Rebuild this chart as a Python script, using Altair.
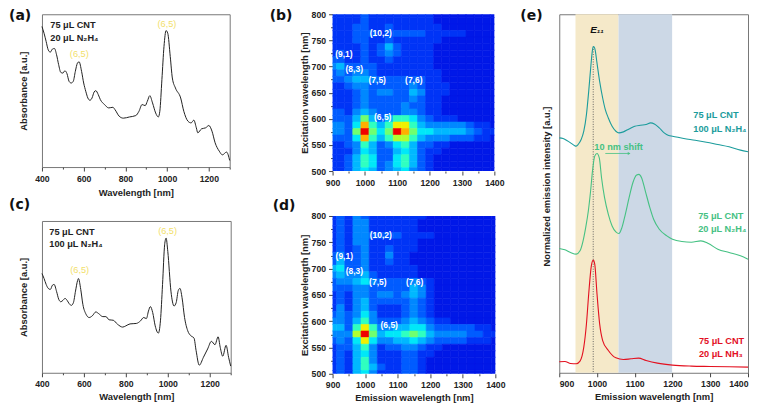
import altair as alt
import pandas as pd

FONT = "Liberation Sans"

# ---------- absorbance spectra ----------
a_x = [400,410,420,430,440,450,460,470,480,490,500,510,520,530,540,550,560,570,578,590,600,610,620,630,640,650,658,670,680,700,720,740,750,770,790,820,850,865,880,895,905,917,930,945,958,965,975,985,995,1003,1015,1025,1040,1065,1080,1100,1115,1128,1140,1147,1165,1185,1200,1215,1230,1250,1265,1285,1300]
a_p = [80,100,125,150,157,148,146,165,195,218,220,213,222,245,250,245,215,190,186,215,250,275,295,302,295,277,273,285,300,315,325,323,330,350,356,352,348,335,315,318,305,288,310,340,352,335,240,140,92,100,170,235,265,295,335,365,370,362,385,400,388,385,378,395,430,455,466,458,483]
a_y = [round((503 - p) / 460, 3) for p in a_p]

c_x = [400,410,420,430,440,450,458,470,480,490,500,510,520,530,540,550,560,570,574,585,595,610,625,640,657,670,690,705,720,740,760,785,800,820,850,870,885,898,908,917,928,940,955,965,975,985,992,1000,1015,1030,1040,1050,1058,1068,1080,1095,1110,1125,1135,1150,1170,1190,1208,1225,1240,1250,1262,1278,1290,1300]
c_p = [217,232,250,262,265,252,250,272,295,302,298,292,298,308,313,305,270,238,232,265,310,340,350,345,333,338,347,347,357,358,370,379,375,369,368,360,350,353,330,317,335,375,397,360,250,130,110,150,270,315,305,268,262,290,350,390,405,412,450,494,470,445,422,432,408,440,467,434,470,497]
c_y = [round((517 - p) / 459, 3) for p in c_p]

# ---------- emission spectra ----------
teal_x = [900,910,920,930,940,945,950,958,965,972,978,984,988,991,995,1000,1007,1015,1022,1030,1040,1050,1058,1070,1085,1100,1115,1130,1142,1152,1165,1178,1190,1200,1230,1260,1290,1320,1350,1380,1400]
teal_p = [410,412,418,425,433,435,430,415,390,340,270,190,145,135,145,185,240,290,325,350,375,390,395,392,383,375,372,370,365,368,380,395,403,405,412,417,423,430,437,447,452]
green_x = [900,915,930,945,955,962,970,977,983,988,994,1000,1006,1012,1020,1030,1040,1050,1058,1066,1075,1085,1095,1105,1111,1118,1128,1140,1150,1165,1185,1200,1225,1250,1275,1295,1320,1350,1380,1400]
green_p = [743,747,755,760,750,725,680,630,570,510,465,457,470,530,590,640,675,693,698,680,640,590,545,522,520,530,570,620,655,685,705,715,722,724,720,728,745,755,765,775]
red_x = [900,915,930,945,955,965,972,978,985,990,994,1000,1007,1015,1030,1050,1070,1090,1110,1130,1160,1200,1250,1300,1350,1400]
red_p = [1084,1083,1089,1090,1082,1040,970,880,795,778,790,880,970,1020,1050,1072,1077,1075,1073,1080,1088,1094,1097,1098,1099,1100]
E_TOP = 1079
def em(ps):
    return [1117 - p for p in ps]

# ---------- excitation-emission maps (0..c, rows 800 -> 500 nm, cols 900 -> 1400 nm) ----------
map_cols = [900 + 25 * i for i in range(21)]
map_rows = [800 - 12.5 * i for i in range(25)]
b_rows = [
 "111121111111100000000",
 "111121111111100000000",
 "111221121111110000000",
 "111222122222111110000",
 "111221121111110000000",
 "111121242111100000000",
 "121121232111100000000",
 "221121121111100000000",
 "342222111111100000000",
 "232332111111110000000",
 "223443222222110000000",
 "112332222232111000000",
 "111232332243111000000",
 "111232222232110000000",
 "111232222322110000000",
 "221343222332110000000",
 "222474246653211100000",
 "3325a6469964333332110",
 "3327c757ca75544443211",
 "2225a6468864333222110",
 "112364235642211000000",
 "111354224542110000000",
 "112465225642100000000",
 "112465235642100000000",
 "112454234532100000000",
]
d_rows = [
 "121321111111000000000",
 "121331111110000000000",
 "121331111110000000000",
 "121332222111100000000",
 "121331111110000000000",
 "121231121110000000000",
 "231231131100000000000",
 "242231121100000000000",
 "452231111110000000000",
 "343342111110000000000",
 "233453222232100000000",
 "222332222243100000000",
 "121332332343100000000",
 "121342222232100000000",
 "131342111232100000000",
 "232353111232100000000",
 "332463222343211000000",
 "442696334455322222110",
 "3338c7455676433332211",
 "232595334454322221110",
 "122463122332110000000",
 "121453111221100000000",
 "121463111221000000000",
 "121464211221000000000",
 "121453111221000000000",
]
map_colors = ["#0018e8","#0034f6","#005cff","#0088ff","#00b8ff","#00e8f8","#30ffc0","#70ff70","#b0ff30","#f0f000","#ffb000","#ff6000","#f00000"]

def heat_frame(rows):
    rec = []
    for r, row in zip(map_rows, rows):
        for c, ch in zip(map_cols, row):
            rec.append(dict(x0=c-12.5, x1=c+12.5, y0=r-6.25, y1=r+6.25, v=int(ch, 16)))
    return pd.DataFrame(rec)

# ---------- text ----------
heat_labels_b = pd.DataFrame(dict(x=[1049,935,967,1038,1151,1055], y=[764,724,696,674,674,603],
                                  t=["(10,2)","(9,1)","(8,3)","(7,5)","(7,6)","(6,5)"]))
heat_labels_d = pd.DataFrame(dict(x=[1048,936,967,1039,1152,1074], y=[764,723,695,674,674,593],
                                  t=["(10,2)","(9,1)","(8,3)","(7,5)","(7,6)","(6,5)"]))

C_FRAME = "#777777"
C_TEXT = "#222222"
YELLOW = "#f2e06a"
TEAL = "#1b9c9c"
GREEN = "#45c183"
RED = "#e3101f"

def tick_axis(values, major, title=None, **kw):
    return alt.Axis(values=values, title=title, grid=False, domain=False, tickColor="#444444", format="d",
                    tickSize=alt.expr(f"datum.value % {major} === 0 ? 4 : 2"),
                    labelExpr=f"datum.value % {major} === 0 ? datum.label : ''",
                    labelFont=FONT, labelFontWeight="bold", labelFontSize=8.7, labelColor=C_TEXT,
                    labelPadding=3, labelOverlap=False, labelFlush=False,
                    titleFont=FONT, titleFontWeight="bold", titleFontSize=9.4, titleColor=C_TEXT, **kw)

def panel_label(t, dx, dy):
    return alt.Chart(pd.DataFrame(dict(t=[t]))).mark_text(
        align="left", baseline="top", font="DejaVu Sans", fontWeight="bold", fontSize=14, color="#111111"
    ).encode(text="t:N", x=alt.value(dx), y=alt.value(dy))

def texts(x, y, t, color, size=9.2, weight="bold", align="left", xs=None, ys=None, style=None):
    df = pd.DataFrame(dict(x=x, y=y, t=t))
    return alt.Chart(df).mark_text(align=align, baseline="middle", font=FONT, fontWeight=weight,
                                   fontSize=size, color=color, fontStyle=style or "normal").encode(
        x=alt.X("x:Q", scale=xs, axis=None), y=alt.Y("y:Q", scale=ys, axis=None), text="t:N")

def absorb(xv, yv, w, h, note, peaks, lab, ldx, ldy, notex, tpad, reserve=None):
    xs = alt.Scale(domain=[400, 1300], nice=False)
    ys = alt.Scale(domain=[0, 1], nice=False)
    df = pd.DataFrame(dict(x=xv, y=yv))
    line = alt.Chart(df).mark_line(color="#222222", strokeWidth=1, interpolate="monotone").encode(
        x=alt.X("x:Q", scale=xs, axis=tick_axis(list(range(400, 1301, 100)), 200, "Wavelength [nm]", titlePadding=tpad)),
        y=alt.Y("y:Q", scale=ys, axis=alt.Axis(title="Absorbance [a.u.]", labels=False, ticks=False, domain=False,
                grid=False, titleFont=FONT, titleFontWeight="bold", titleFontSize=9.4, titleColor=C_TEXT, titlePadding=13)),
    )
    n = texts([notex, notex], [.93, .847], note, C_TEXT, xs=xs, ys=ys)
    p = texts(peaks[0], peaks[1], ["(6,5)", "(6,5)"], YELLOW, weight="normal", align="center", xs=xs, ys=ys)
    layers = [line, n, p, panel_label(lab, ldx, ldy)]
    if reserve:
        # invisible mark that keeps the gap between the first and second columns
        layers.append(alt.Chart(pd.DataFrame(dict(t=["."]))).mark_point(opacity=0, size=1).encode(
            x=alt.value(reserve), y=alt.value(0), detail="t:N"))
    return alt.layer(*layers).resolve_axis(x="independent", y="independent").properties(width=w, height=h)

def heat(rows, labels, w, h, lab, ldx, ldy, xtitle):
    xs = alt.Scale(domain=[900, 1400], nice=False)
    ys = alt.Scale(domain=[500, 800], nice=False)
    cs = alt.Scale(domain=list(range(13)), range=map_colors)
    rect = alt.Chart(heat_frame(rows)).mark_rect(clip=True, strokeWidth=0.6).encode(
        x=alt.X("x0:Q", scale=xs, axis=tick_axis(list(range(900, 1401, 50)), 100, xtitle, titlePadding=4)),
        x2="x1:Q",
        y=alt.Y("y0:Q", scale=ys, axis=tick_axis(list(range(500, 801, 25)), 50, "Excitation wavelength [nm]", titlePadding=2)),
        y2="y1:Q",
        color=alt.Color("v:Q", scale=cs, legend=None),
        stroke=alt.Stroke("v:Q", scale=cs, legend=None),
    )
    t = texts(labels.x, labels.y, labels.t, "#ffffff", size=8.5, align="center", xs=xs, ys=ys)
    return alt.layer(rect, t, panel_label(lab, ldx, ldy)).resolve_axis(x="independent", y="independent").properties(width=w, height=h, view=alt.ViewConfig(stroke=None))

# panel (e)
xs_e = alt.Scale(domain=[900, 1400], nice=False)
ys_e = alt.Scale(domain=[0, E_TOP], nice=False)
bands = pd.DataFrame(dict(x0=[943, 1057], x1=[1057, 1199], c=["#f5e9c9", "#ccd8e6"]))
band = alt.Chart(bands).mark_rect().encode(
    x=alt.X("x0:Q", scale=xs_e, axis=alt.Axis(values=list(range(900, 1401, 100)), title="Emission wavelength [nm]",
            grid=False, domain=False, tickColor="#444444", tickSize=4, format="d",
            labelFont=FONT, labelFontWeight="bold", labelFontSize=8.7, labelColor=C_TEXT, labelPadding=3,
            titleFont=FONT, titleFontWeight="bold", titleFontSize=9.4, titleColor=C_TEXT, titlePadding=4)),
    x2="x1:Q",
    color=alt.Color("c:N", scale=None),
)
drop = alt.Chart(pd.DataFrame(dict(x=[990], y=[1117 - 135], y2=[0]))).mark_rule(
    color="#555555", strokeDash=[1, 1.5], strokeWidth=0.9).encode(
    x=alt.X("x:Q", scale=xs_e, axis=None), y=alt.Y("y:Q", scale=ys_e, axis=None), y2="y2:Q")

def em_line(xv, pv, color, with_axis=False):
    df = pd.DataFrame(dict(x=xv, y=em(pv)))
    yaxis = alt.Axis(title="Normalized emission intensity [a.u.]", labels=False, ticks=False, domain=False, grid=False,
                     titleFont=FONT, titleFontWeight="bold", titleFontSize=9.4, titleColor=C_TEXT,
                     titlePadding=8, titleY=172) if with_axis else None
    return alt.Chart(df).mark_line(color=color, strokeWidth=1.1, interpolate="monotone").encode(
        x=alt.X("x:Q", scale=xs_e, axis=None), y=alt.Y("y:Q", scale=ys_e, axis=yaxis))

arrow_rule = alt.Chart(pd.DataFrame(dict(x=[1022], x2=[1086], y=[1117 - 457]))).mark_rule(color=GREEN, strokeWidth=0.8).encode(
    x=alt.X("x:Q", scale=xs_e, axis=None), x2="x2:Q", y=alt.Y("y:Q", scale=ys_e, axis=None))
arrow_head = alt.Chart(pd.DataFrame(dict(x=[1085], y=[1117 - 457]))).mark_point(
    shape="triangle-right", filled=True, size=10, color=GREEN, opacity=1).encode(
    x=alt.X("x:Q", scale=xs_e, axis=None), y=alt.Y("y:Q", scale=ys_e, axis=None))

panel_e = alt.layer(
    band, drop,
    em_line(teal_x, teal_p, TEAL, True), em_line(green_x, green_p, GREEN), em_line(red_x, red_p, RED),
    arrow_rule, arrow_head,
    texts([1000], [1117 - 85], ["E₁₁"], "#111111", size=10, align="center", xs=xs_e, ys=ys_e, style="italic"),
    texts([993], [1117 - 437], ["10 nm shift"], GREEN, xs=xs_e, ys=ys_e),
    texts([1255, 1255], [1117 - 342, 1117 - 383], ["75 μL CNT", "100 μL N₂H₄"], TEAL, xs=xs_e, ys=ys_e),
    texts([1268, 1268], [1117 - 644, 1117 - 684], ["75 μL CNT", "20 μL N₂H₄"], GREEN, xs=xs_e, ys=ys_e),
    texts([1270, 1270], [1117 - 1020, 1117 - 1061], ["75 μL CNT", "20 μL NH₃"], RED, xs=xs_e, ys=ys_e),
    panel_label("(e)", -39, -5),
).resolve_axis(x="independent", y="independent").properties(width=189, height=359)

panel_a = absorb(a_x, a_y, 188, 153, ["75 μL CNT", "20 μL N₂H₄"], ([579, 999], [.741, .935]), "(a)", -33, -5, 440, 6, reserve=213)
panel_c = absorb(c_x, c_y, 189, 152, ["75 μL CNT", "100 μL N₂H₄"], ([580, 999], [.675, .935]), "(c)", -33, -23, 435, 4)
panel_b = heat(b_rows, heat_labels_b, 162, 157, "(b)", -63, -5, None)
panel_d = heat(d_rows, heat_labels_d, 163, 158, "(d)", -60, -17, "Emission wavelength [nm]")

left = alt.vconcat(panel_a, panel_c, spacing=54, bounds="flush")
mid = alt.vconcat(panel_b, panel_d, spacing=45, bounds="flush")
chart = alt.hconcat(left, mid, panel_e, spacing=14).configure_view(
    stroke=C_FRAME, strokeWidth=1
).properties(padding=0, background="white")

chart.save("out.html", embed_options={"renderer": "svg", "actions": False})
